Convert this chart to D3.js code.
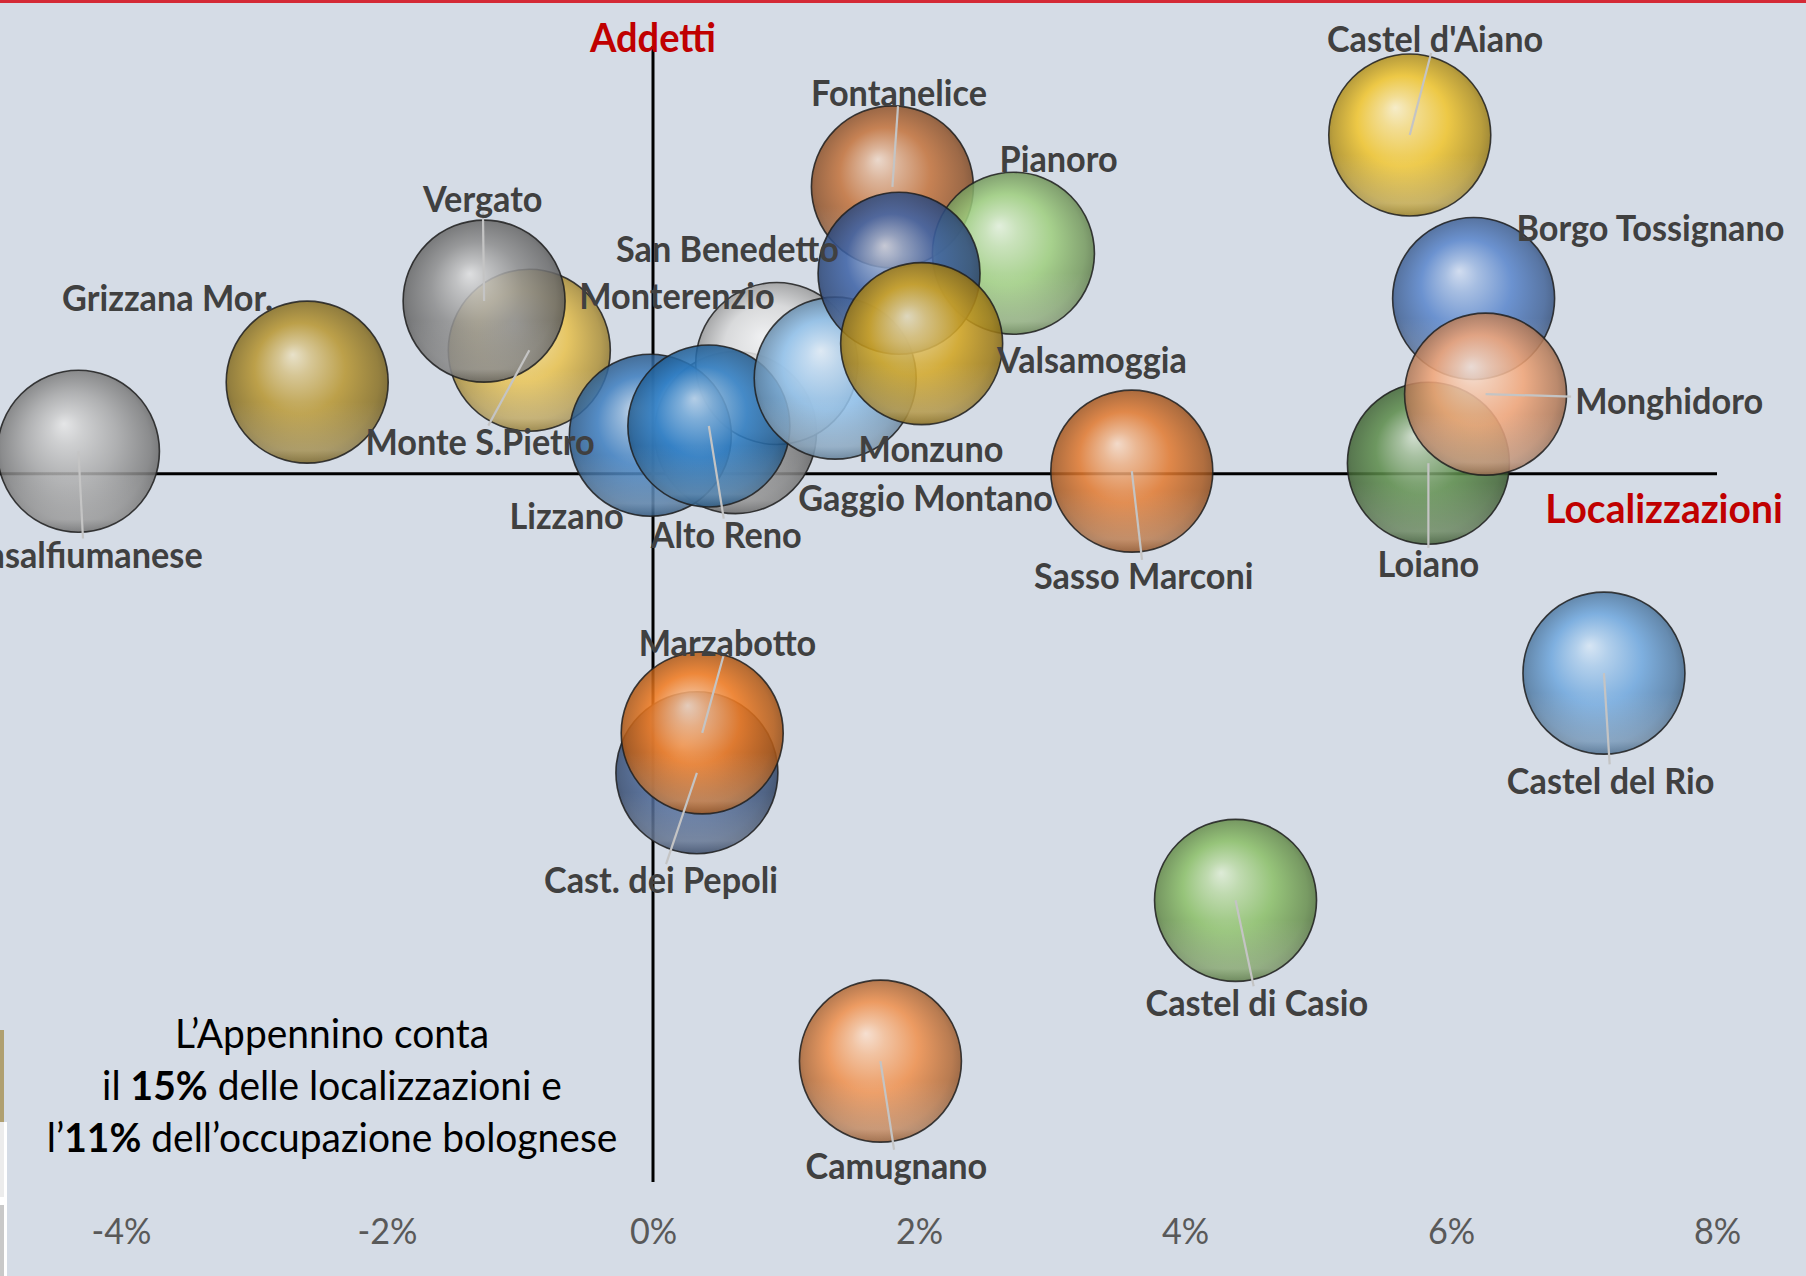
<!DOCTYPE html>
<html lang="it">
<head>
    <meta charset="UTF-8">
    <title>Appennino bolognese - localizzazioni e addetti</title>
    <script src="https://d3js.org/d3.v7.min.js"></script>
    <style>
        body { margin: 0; background: #d5dce6; }
        svg { display: block; }
        .label { font-family: Lato, "Open Sans", sans-serif; font-weight: 700; fill: #404040; }
        .tick text { font-family: Lato, "Open Sans", sans-serif; fill: #595959; }
        .axis-title { font-family: Lato, "Open Sans", sans-serif; font-weight: 700; fill: #c00000; }
        .note { font-family: Lato, "Open Sans", sans-serif; fill: #000; }
    </style>
</head>
<body>
    <svg width="1806" height="1276"></svg>

    <script>
        // Comuni dell'Appennino (ordine di disegno)
        const comuni = [
            "Casalfiumanese", "Grizzana Mor.", "Monte S.Pietro", "Vergato", "Gaggio Montano",
            "Monterenzio", "Lizzano", "Alto Reno", "Monzuno", "Fontanelice", "Pianoro",
            "San Benedetto", "Valsamoggia", "Sasso Marconi", "Castel d'Aiano", "Borgo Tossignano",
            "Loiano", "Monghidoro", "Castel del Rio", "Castel di Casio", "Camugnano",
            "Cast. dei Pepoli", "Marzabotto"
        ];

        // variazione % localizzazioni (asse x)
        const localizzazioni = [
            -4.32, -2.60, -0.93, -1.27, 0.62,
            0.93, -0.02, 0.42, 1.37, 1.80, 2.71,
            1.85, 2.02, 3.60, 5.69, 6.17,
            5.83, 6.26, 7.15, 4.38, 1.71,
            0.33, 0.37
        ];

        // variazione % addetti (asse y)
        const addetti = [
            0.17, 0.69, 0.93, 1.30, 0.31,
            0.83, 0.29, 0.36, 0.72, 2.16, 1.66,
            1.51, 0.98, 0.02, 2.55, 1.32,
            0.08, 0.60, -1.50, -3.21, -4.42,
            -2.25, -1.95
        ];

        // dimensione bolla (tutte uguali nel grafico)
        const peso = [
            1, 1, 1, 1, 1,
            1, 1, 1, 1, 1, 1,
            1, 1, 1, 1, 1,
            1, 1, 1, 1, 1,
            1, 1
        ];

        const tickValues = [-4, -2, 0, 2, 4, 6, 8];

        // posizione delle etichette, in unita' del grafico
        const labelPos = [
            [-4.28, -0.60], [-3.65, 1.33], [-1.30, 0.25], [-1.28, 2.08], [2.05, -0.17],
            [0.18, 1.35], [-0.65, -0.31], [0.55, -0.45], [2.09, 0.20], [1.85, 2.88], [3.05, 2.38],
            [0.56, 1.70], [3.30, 0.87], [3.69, -0.76], [5.88, 3.28], [7.50, 1.86],
            [5.83, -0.67], [7.64, 0.56], [7.20, -2.30], [4.54, -3.97], [1.83, -5.20],
            [0.06, -3.05], [0.56, -1.26]
        ];

        // etichette con linea di richiamo
        const conLinea = [
            "Casalfiumanese", "Vergato", "Monte S.Pietro", "Alto Reno", "Fontanelice",
            "Castel d'Aiano", "Monghidoro", "Loiano", "Sasso Marconi", "Castel del Rio",
            "Castel di Casio", "Camugnano", "Marzabotto", "Cast. dei Pepoli"
        ];

        const palette = [
            "#a9a9a9", "#b89630", "#e9c24e", "#8e8e8e", "#9b9b9b",
            "#d9d9d9", "#3f7fc0", "#2f7fc6", "#8fc0ea", "#c4733c", "#9fcf7e",
            "#3d62a6", "#d2a41e", "#e27a30", "#f1c52c", "#5a86cc",
            "#5c8c4a", "#f2a577", "#70a8de", "#8cc068", "#f0904c",
            "#4d6a9c", "#f27a1e"
        ];

        const data = comuni.map((c, i) => ({
            nome: c,
            x: localizzazioni[i],
            y: addetti[i],
            peso: peso[i],
            lx: labelPos[i][0],
            ly: labelPos[i][1],
            colore: palette[i]
        }));

        const svg = d3.select("svg");

        // scale
        const x = d3.scaleLinear().domain([-4, 8]).range([121, 1717]);
        const y = d3.scaleLinear().domain([-5.33, 3.22]).range([1182, 46]);
        const r = d3.scaleSqrt().domain([0, 1]).range([0, 81]);

        // frammenti della slide (bordo rosso in alto, barre a sinistra)
        svg.append("rect").attr("x", 0).attr("y", 0).attr("width", 1806).attr("height", 3).attr("fill", "#d42a36");
        svg.append("rect").attr("x", 0).attr("y", 1030).attr("width", 4).attr("height", 92).attr("fill", "#b0a070");
        svg.append("rect").attr("x", 0).attr("y", 1122).attr("width", 7).attr("height", 154).attr("fill", "#ffffff");
        svg.append("rect").attr("x", 0).attr("y", 1122).attr("width", 4).attr("height", 75).attr("fill", "#ececec");
        svg.append("rect").attr("x", 0).attr("y", 1205).attr("width", 4).attr("height", 71).attr("fill", "#c9c9c9");

        // assi a croce
        svg.append("line")
            .attr("x1", 0).attr("x2", x(8))
            .attr("y1", y(0)).attr("y2", y(0))
            .attr("stroke", "#000").attr("stroke-width", 3);

        svg.append("line")
            .attr("x1", x(0)).attr("x2", x(0))
            .attr("y1", y.range()[1]).attr("y2", y.range()[0])
            .attr("stroke", "#000").attr("stroke-width", 3);

        // fattore di compressione orizzontale per imitare un font stretto
        function squeeze(text, weight, size, target) {
            const t = svg.append("text").attr("font-family", "Lato, 'Open Sans', sans-serif")
                .attr("font-weight", weight).attr("font-size", size).text(text);
            const w = t.node().getComputedTextLength();
            t.remove();
            return target / w;
        }
        const kBold = squeeze("Borgo Tossignano", 700, 36, 268);
        const kReg = squeeze("l’11% dell’occupazione bolognese", 400, 41, 570);

        // gradienti sferici
        const defs = svg.append("defs");
        data.forEach((d, i) => {
            const g = defs.append("radialGradient")
                .attr("id", "sfera" + i)
                .attr("cx", 0.5).attr("cy", 0.5).attr("r", 0.56)
                .attr("fx", 0.41).attr("fy", 0.33);
            const light = d3.interpolateRgb(d.colore, "#ffffff");
            const dark = d3.interpolateRgb(d.colore, "#000000");
            g.append("stop").attr("offset", "0%").attr("stop-color", light(0.72));
            g.append("stop").attr("offset", "18%").attr("stop-color", light(0.42));
            g.append("stop").attr("offset", "50%").attr("stop-color", d.colore);
            g.append("stop").attr("offset", "82%").attr("stop-color", dark(0.25));
            g.append("stop").attr("offset", "100%").attr("stop-color", dark(0.5));
        });

        const rim = defs.append("linearGradient").attr("id", "riflesso")
            .attr("x1", 0).attr("x2", 0).attr("y1", 0).attr("y2", 1);
        rim.append("stop").attr("offset", "62%").attr("stop-color", "#fff").attr("stop-opacity", 0);
        rim.append("stop").attr("offset", "92%").attr("stop-color", "#fff").attr("stop-opacity", 0.22);
        rim.append("stop").attr("offset", "100%").attr("stop-color", "#fff").attr("stop-opacity", 0.05);

        // bolle
        const bolle = svg.append("g").selectAll("g")
            .data(data)
            .join("g")
            .attr("transform", d => `translate(${x(d.x)},${y(d.y)})`);

        bolle.append("circle")
            .attr("r", d => r(d.peso))
            .attr("fill", (d, i) => `url(#sfera${i})`)
            .attr("fill-opacity", 0.86);

        bolle.append("circle")
            .attr("r", d => r(d.peso))
            .attr("fill", "url(#riflesso)")
            .attr("stroke", "#1f1f1f")
            .attr("stroke-opacity", 0.85)
            .attr("stroke-width", 1.6);

        // etichette (prima misurate, poi le linee sotto il testo)
        const linee = svg.append("g");
        const etichette = svg.append("g").selectAll("text")
            .data(data)
            .join("text")
            .attr("class", "label")
            .attr("font-size", 36)
            .attr("text-anchor", "middle")
            .attr("dominant-baseline", "central")
            .attr("transform", d => `translate(${x(d.lx)},${y(d.ly)}) scale(${kBold},1)`)
            .text(d => d.nome);

        etichette.each(function (d) {
            if (!conLinea.includes(d.nome)) return;
            const bb = this.getBBox();
            const cx = x(d.x), cy = y(d.y);
            const lx = x(d.lx), ly = y(d.ly);
            const dx = lx - cx, dy = ly - cy;
            const hw = bb.width * kBold / 2 + 4, hh = 15;
            const s = Math.min(dx ? hw / Math.abs(dx) : Infinity, dy ? hh / Math.abs(dy) : Infinity);
            const t = 1 - s;
            if (t <= 0) return;
            linee.append("line")
                .attr("x1", cx).attr("y1", cy)
                .attr("x2", cx + dx * t).attr("y2", cy + dy * t)
                .attr("stroke", "#c4c4c4")
                .attr("stroke-width", 2.2);
        });

        // asse x con le etichette in percentuale
        const xAxis = svg.append("g")
            .attr("transform", "translate(0,1231)")
            .call(d3.axisBottom(x).tickValues(tickValues).tickFormat(d => d + "%").tickSize(0));
        xAxis.select(".domain").remove();
        xAxis.selectAll("text")
            .attr("y", 0).attr("dy", "0.35em")
            .attr("font-size", 36)
            .attr("transform", `scale(${kReg},1)`);

        // titoli degli assi
        svg.append("text").attr("class", "axis-title")
            .attr("font-size", 40)
            .attr("text-anchor", "middle").attr("dominant-baseline", "central")
            .attr("transform", `translate(${x(0)},36) scale(${kBold},1)`)
            .text("Addetti");

        svg.append("text").attr("class", "axis-title")
            .attr("font-size", 41)
            .attr("text-anchor", "middle").attr("dominant-baseline", "central")
            .attr("transform", `translate(1664,508) scale(${kBold},1)`)
            .text("Localizzazioni");

        // nota
        const nota = [
            [["L’Appennino conta", false]],
            [["il ", false], ["15%", true], [" delle localizzazioni e", false]],
            [["l’", false], ["11%", true], [" dell’occupazione bolognese", false]]
        ];
        nota.forEach((riga, i) => {
            const t = svg.append("text").attr("class", "note")
                .attr("font-size", 41)
                .attr("text-anchor", "middle").attr("dominant-baseline", "central")
                .attr("transform", `translate(332,${1033 + i * 52}) scale(${kReg},1)`);
            riga.forEach(([s, b]) => t.append("tspan").attr("font-weight", b ? 700 : 400).text(s));
        });
    </script>
</body>
</html>
